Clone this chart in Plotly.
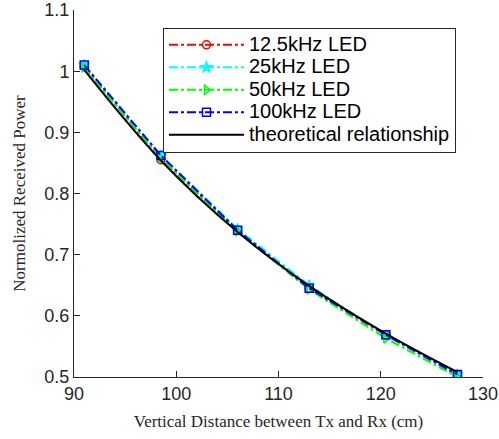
import plotly.graph_objects as go

distance = [91, 98.5, 106, 113, 120.5, 127.5]
p_12k5 = [1.008, 0.855, 0.740, 0.645, 0.568, 0.503]
p_25k = [1.010, 0.862, 0.742, 0.650, 0.568, 0.504]
p_50k = [1.006, 0.857, 0.738, 0.643, 0.563, 0.500]
p_100k = [1.010, 0.862, 0.740, 0.645, 0.569, 0.504]
theory = [1.002, 0.854, 0.737, 0.649, 0.571, 0.508]

series = [
    ("12.5kHz LED", p_12k5, "#ff0000", "circle-open"),
    ("25kHz LED", p_25k, "#00ffff", "star"),
    ("50kHz LED", p_50k, "#00ff00", "triangle-right-open"),
    ("100kHz LED", p_100k, "#0000ff", "square-open"),
]

def big(t):
    return '<span style="font-size:20px">' + t + '</span>'

fig = go.Figure()
for name, ys, col, sym in series:
    fig.add_trace(go.Scatter(
        x=distance, y=ys, name=big(name), mode="lines+markers",
        line=dict(color=col, width=2, dash="dashdot"),
        marker=dict(symbol=sym, size=8, color=col, line=dict(color=col, width=1.5)),
    ))
fig.add_trace(go.Scatter(
    x=distance, y=theory, name=big("theoretical relationship"), mode="lines",
    line=dict(color="black", width=2, shape="spline"),
))

axis_common = dict(
    showgrid=False, zeroline=False, showline=True, linecolor="#262626", linewidth=1,
    ticks="inside", ticklen=6, tickcolor="#262626",
    tickfont=dict(family="Liberation Sans, Arial", size=18, color="#262626"),
    ticklabeloverflow="allow", automargin=False,
)
fig.update_layout(
    width=499, height=439,
    margin=dict(l=74, r=16, t=10, b=62),
    paper_bgcolor="white", plot_bgcolor="white",
    xaxis=dict(range=[90, 130], tickvals=[90, 100, 110, 120, 130],
               title=dict(text="Vertical Distance between Tx and Rx (cm)",
                          font=dict(family="Liberation Serif, Times New Roman", size=17, color="#262626"),
                          standoff=12),
               **axis_common),
    yaxis=dict(range=[0.4999, 1.1001], tickvals=[0.5, 0.6, 0.7, 0.8, 0.9, 1.0, 1.1],
               ticktext=["0.5", "0.6", "0.7", "0.8", "0.9", "1", "1.1"],
               title=dict(text="Normolized Received Power",
                          font=dict(family="Liberation Serif, Times New Roman", size=17, color="#262626"),
                          standoff=14),
               **axis_common),
    legend=dict(x=0.2176, y=0.952, xanchor="left", yanchor="top",
                bordercolor="#262626", borderwidth=1, bgcolor="white",
                font=dict(family="Liberation Sans, Arial", size=15, color="black"),
                tracegroupgap=0, itemwidth=75),
    showlegend=True,
)
fig.write_html("out.html")
